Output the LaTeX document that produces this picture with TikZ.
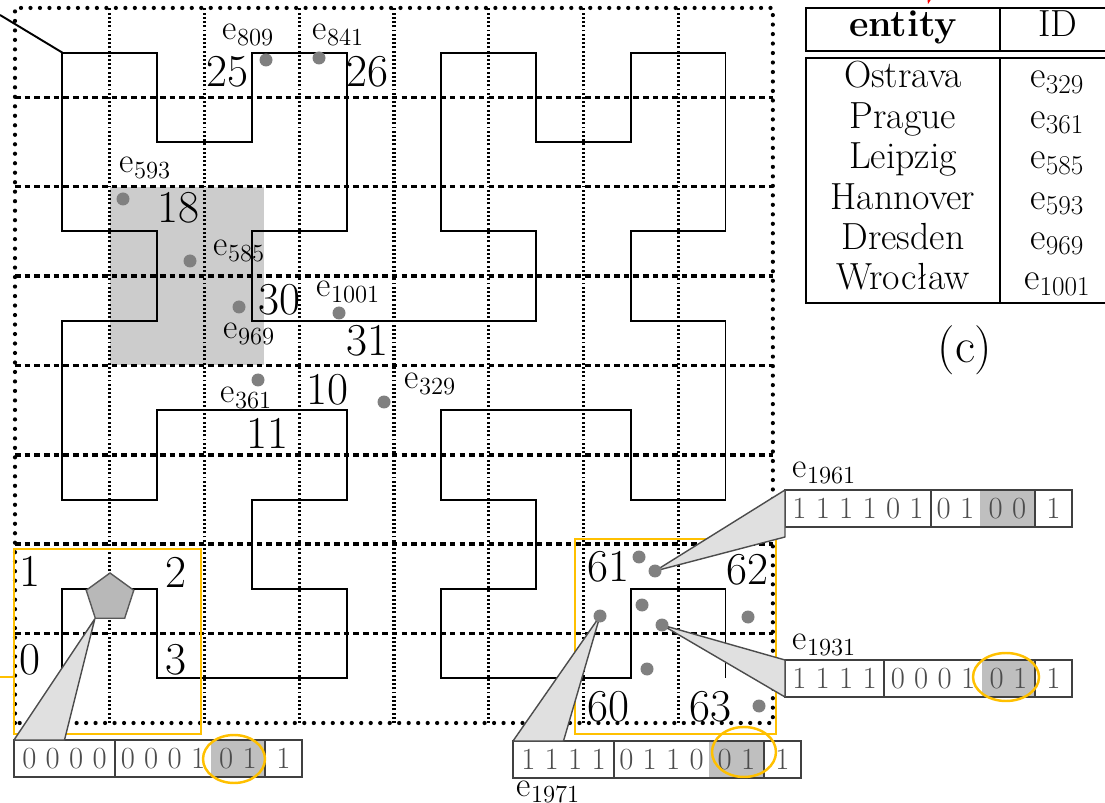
\documentclass[tikz,border=0pt]{standalone}
\usetikzlibrary{arrows.meta,positioning,shapes.geometric}
\definecolor{gold}{RGB}{255,192,0}
\newcommand{\eid}[1]{e\raisebox{-3pt}{\fontsize{14}{14}\selectfont #1}}
\newcommand{\tid}[1]{e\raisebox{-3pt}{\fontsize{15.5}{15.5}\selectfont #1}}

\begin{document}
\begin{tikzpicture}[x=0.02cm, y=-0.02cm, >=Stealth,
    cellnum/.style={font=\fontsize{26}{30}\selectfont, inner sep=0pt},
    elabel/.style={font=\fontsize{20}{24}\selectfont, inner sep=0pt},
    tabtext/.style={font=\fontsize{21.5}{24}\selectfont, inner sep=0pt, anchor=base},
    dot/.style={circle, fill=black!50, inner sep=0pt, minimum size=0.26cm},
    bitcell/.style={draw=black!75, line width=1pt, inner sep=0pt, outer sep=0pt,
        minimum height=0.74cm, text=black!70, font=\fontsize{17.5}{20}\selectfont},
    wedge/.style={draw=black!70, line width=0.8pt, fill=black!12, line join=round},
    zoombox/.style={draw=gold, line width=1.4pt, inner sep=0pt, outer sep=0pt},
    gridv/.style={line width=1.8pt, dash pattern=on 1.1pt off 1.3pt},
    gridh/.style={line width=2pt, dash pattern=on 3.2pt off 2.3pt},
    gridb/.style={line width=2.4pt, line cap=round, dash pattern=on 0pt off 5.4pt}]
    \useasboundingbox (0,0) rectangle (1105,803);
    \clip (0,0) rectangle (1105,803);

    % grid, query window and Hilbert curve (cell units)
    \begin{scope}[shift={(15,723)}, x=1.895cm, y=1.788cm]
        \fill[black!20] (1,4) rectangle (2.63,6);
        \foreach \i in {1,...,7}
            \draw[gridv] (\i,0) -- (\i,8);
        \foreach \j in {1,...,7}
            \draw[gridh] (0,\j) -- (8,\j);
        \draw[gridb] (0,0) rectangle (8,8);
        \draw[line width=1.1pt, shift={(0.5,0.5)}] plot coordinates {
            (0,0) (0,1) (1,1) (1,0) (2,0) (3,0) (3,1) (2,1) (2,2) (3,2) (3,3) (2,3) (1,3) (1,2) (0,2) (0,3)
            (0,4) (1,4) (1,5) (0,5) (0,6) (0,7) (1,7) (1,6) (2,6) (2,7) (3,7) (3,6) (3,5) (2,5) (2,4) (3,4)
            (4,4) (5,4) (5,5) (4,5) (4,6) (4,7) (5,7) (5,6) (6,6) (6,7) (7,7) (7,6) (7,5) (6,5) (6,4) (7,4)
            (7,3) (7,2) (6,2) (6,3) (5,3) (4,3) (4,2) (5,2) (5,1) (4,1) (4,0) (5,0) (6,0) (6,1) (7,1) (7,0)};
        \coordinate (hstart) at (0.5,7.5);
    \end{scope}

    \coordinate (ptr) at (0,15);
    \draw[line width=1.1pt] (ptr) -- (hstart);
    \draw[red, line width=1pt, -{Stealth}] (935,-25) -- (928,4);

    % zoomed regions
    \node[zoombox, minimum width=3.74cm, minimum height=3.7cm] (zl) at (107.5,641.5) {};
    \node[zoombox, minimum width=4.02cm, minimum height=3.9cm] (zr) at (675.5,636.5) {};
    \coordinate (zin) at (0,677);
    \draw[gold, line width=1.4pt] (zin) -- (zin -| zl.west);

    \node[regular polygon, regular polygon sides=5, minimum size=1cm, inner sep=0pt,
        fill=black!28, draw=black!65, line width=0.8pt] (poly) at (110,598) {};

    % cell numbers
    \foreach \t/\x/\y in {25/227/72, 26/367/72, 18/178/208, 30/279/300, 31/367/341,
                          10/327/390, 11/267/433, 0/30/660, 1/30/571, 2/176/572, 3/176/660,
                          60/608/707, 61/608/567, 62/747/570, 63/710/707}
        \node[cellnum] (c\t) at (\x,\y) {\t};

    % bit strings
    \foreach \n/\x/\y/\ta/\wa/\tb/\wb/\tc/\wc in {
            b0/14/758.5/{0 0 0 0}/2.02/{0 0 0 1}/1.92/{0 1}/1.08,
            b1971/513/759.5/{1 1 1 1}/2.02/{0 1 1 0}/1.9/{0 1}/1.1,
            b1961/785/508.5/{1 1 1 1 0 1}/2.92/{0 1}/0.98/{0 0}/1.1,
            b1931/785/678.5/{1 1 1 1}/1.98/{0 0 0 1}/1.96/{0 1}/1.06} {
        \node[bitcell, anchor=west, minimum width=\wa cm] (\n-a) at (\x,\y) {\ta};
        \node[bitcell, draw=none, right=0pt of \n-a, minimum width=\wb cm] (\n-b) {\tb};
        \node[bitcell, draw=none, fill=black!25, right=0pt of \n-b, minimum width=\wc cm] (\n-c) {\tc};
        \draw[draw=black!75, line width=1pt] (\n-b.north west) rectangle (\n-c.south east);
        \node[bitcell, right=0pt of \n-c, minimum width=0.74cm] (\n-d) {1};
    }

    % callouts
    \foreach \n/\x/\y in {1961/655/571, 1931/662/625, 1971/600/616}
        \coordinate (d\n) at (\x,\y);
    \draw[wedge] (d1961) -- (b1961-a.north west) -- ([yshift=-0.2cm]b1961-a.south west) -- cycle;
    \draw[wedge] (d1931) -- (b1931-a.north west) -- (b1931-a.south west) -- cycle;
    \draw[wedge] (d1971) -- (b1971-a.north west) -- (b1971-a.north) -- cycle;
    \draw[wedge] (poly.corner 3) -- (b0-a.north west) -- (b0-a.north) -- cycle;

    \draw[gold, line width=1.4pt] (234,759) ellipse [x radius=0.62cm, y radius=0.48cm];
    \draw[gold, line width=1.4pt] (744,752) ellipse [x radius=0.64cm, y radius=0.5cm];
    \draw[gold, line width=1.4pt] (1006,677) ellipse [x radius=0.66cm, y radius=0.48cm];

    % entities
    \foreach \n/\x/\y in {809/266/60, 841/319/58, 593/123/199, 585/190/261,
                          969/239/307, 1001/339/313, 361/258/380, 329/384/402}
        \node[dot] (e\n) at (\x,\y) {};
    \foreach \n in {1961,1931,1971}
        \node[dot] (e\n) at (d\n) {};
    \foreach \x/\y [count=\k] in {639/557, 642/605, 748/617, 647/669, 759/706}
        \node[dot] (q\k) at (\x,\y) {};
    \foreach \n/\x/\y in {809/248/35, 841/338/35, 593/145/168, 585/239/251, 969/249/334,
                          1001/348/292, 361/246/398, 329/430/384, 1961/824/473,
                          1931/824/645, 1971/548/792}
        \node[elabel] (l\n) at (\x,\y) {\eid{\n}};

    % table (c)
    \draw[line width=1.1pt] (806,8) rectangle (1115,51);
    \draw[line width=1.1pt] (1000,8) -- (1000,51);
    \draw[line width=1.1pt] (806,58) rectangle (1115,303);
    \draw[line width=1.1pt] (1000,58) -- (1000,303);
    \node[tabtext] (hent) at (903,37) {\bfseries entity};
    \node[tabtext] (hid) at (1058,37) {ID};
    \foreach \name/\id [count=\i from 0] in {Ostrava/329, Prague/361, Leipzig/585,
                                             Hannover/593, Dresden/969, Wrocław/1001} {
        \node[tabtext] (n\id) at (903,{88+40.4*\i}) {\name};
        \node[tabtext] (i\id) at (1057,{88+40.4*\i}) {\tid{\id}};
    }
    \node[font=\fontsize{28}{32}\selectfont, inner sep=0pt] (cap) at (965,350) {(c)};
\end{tikzpicture}
\end{document}
